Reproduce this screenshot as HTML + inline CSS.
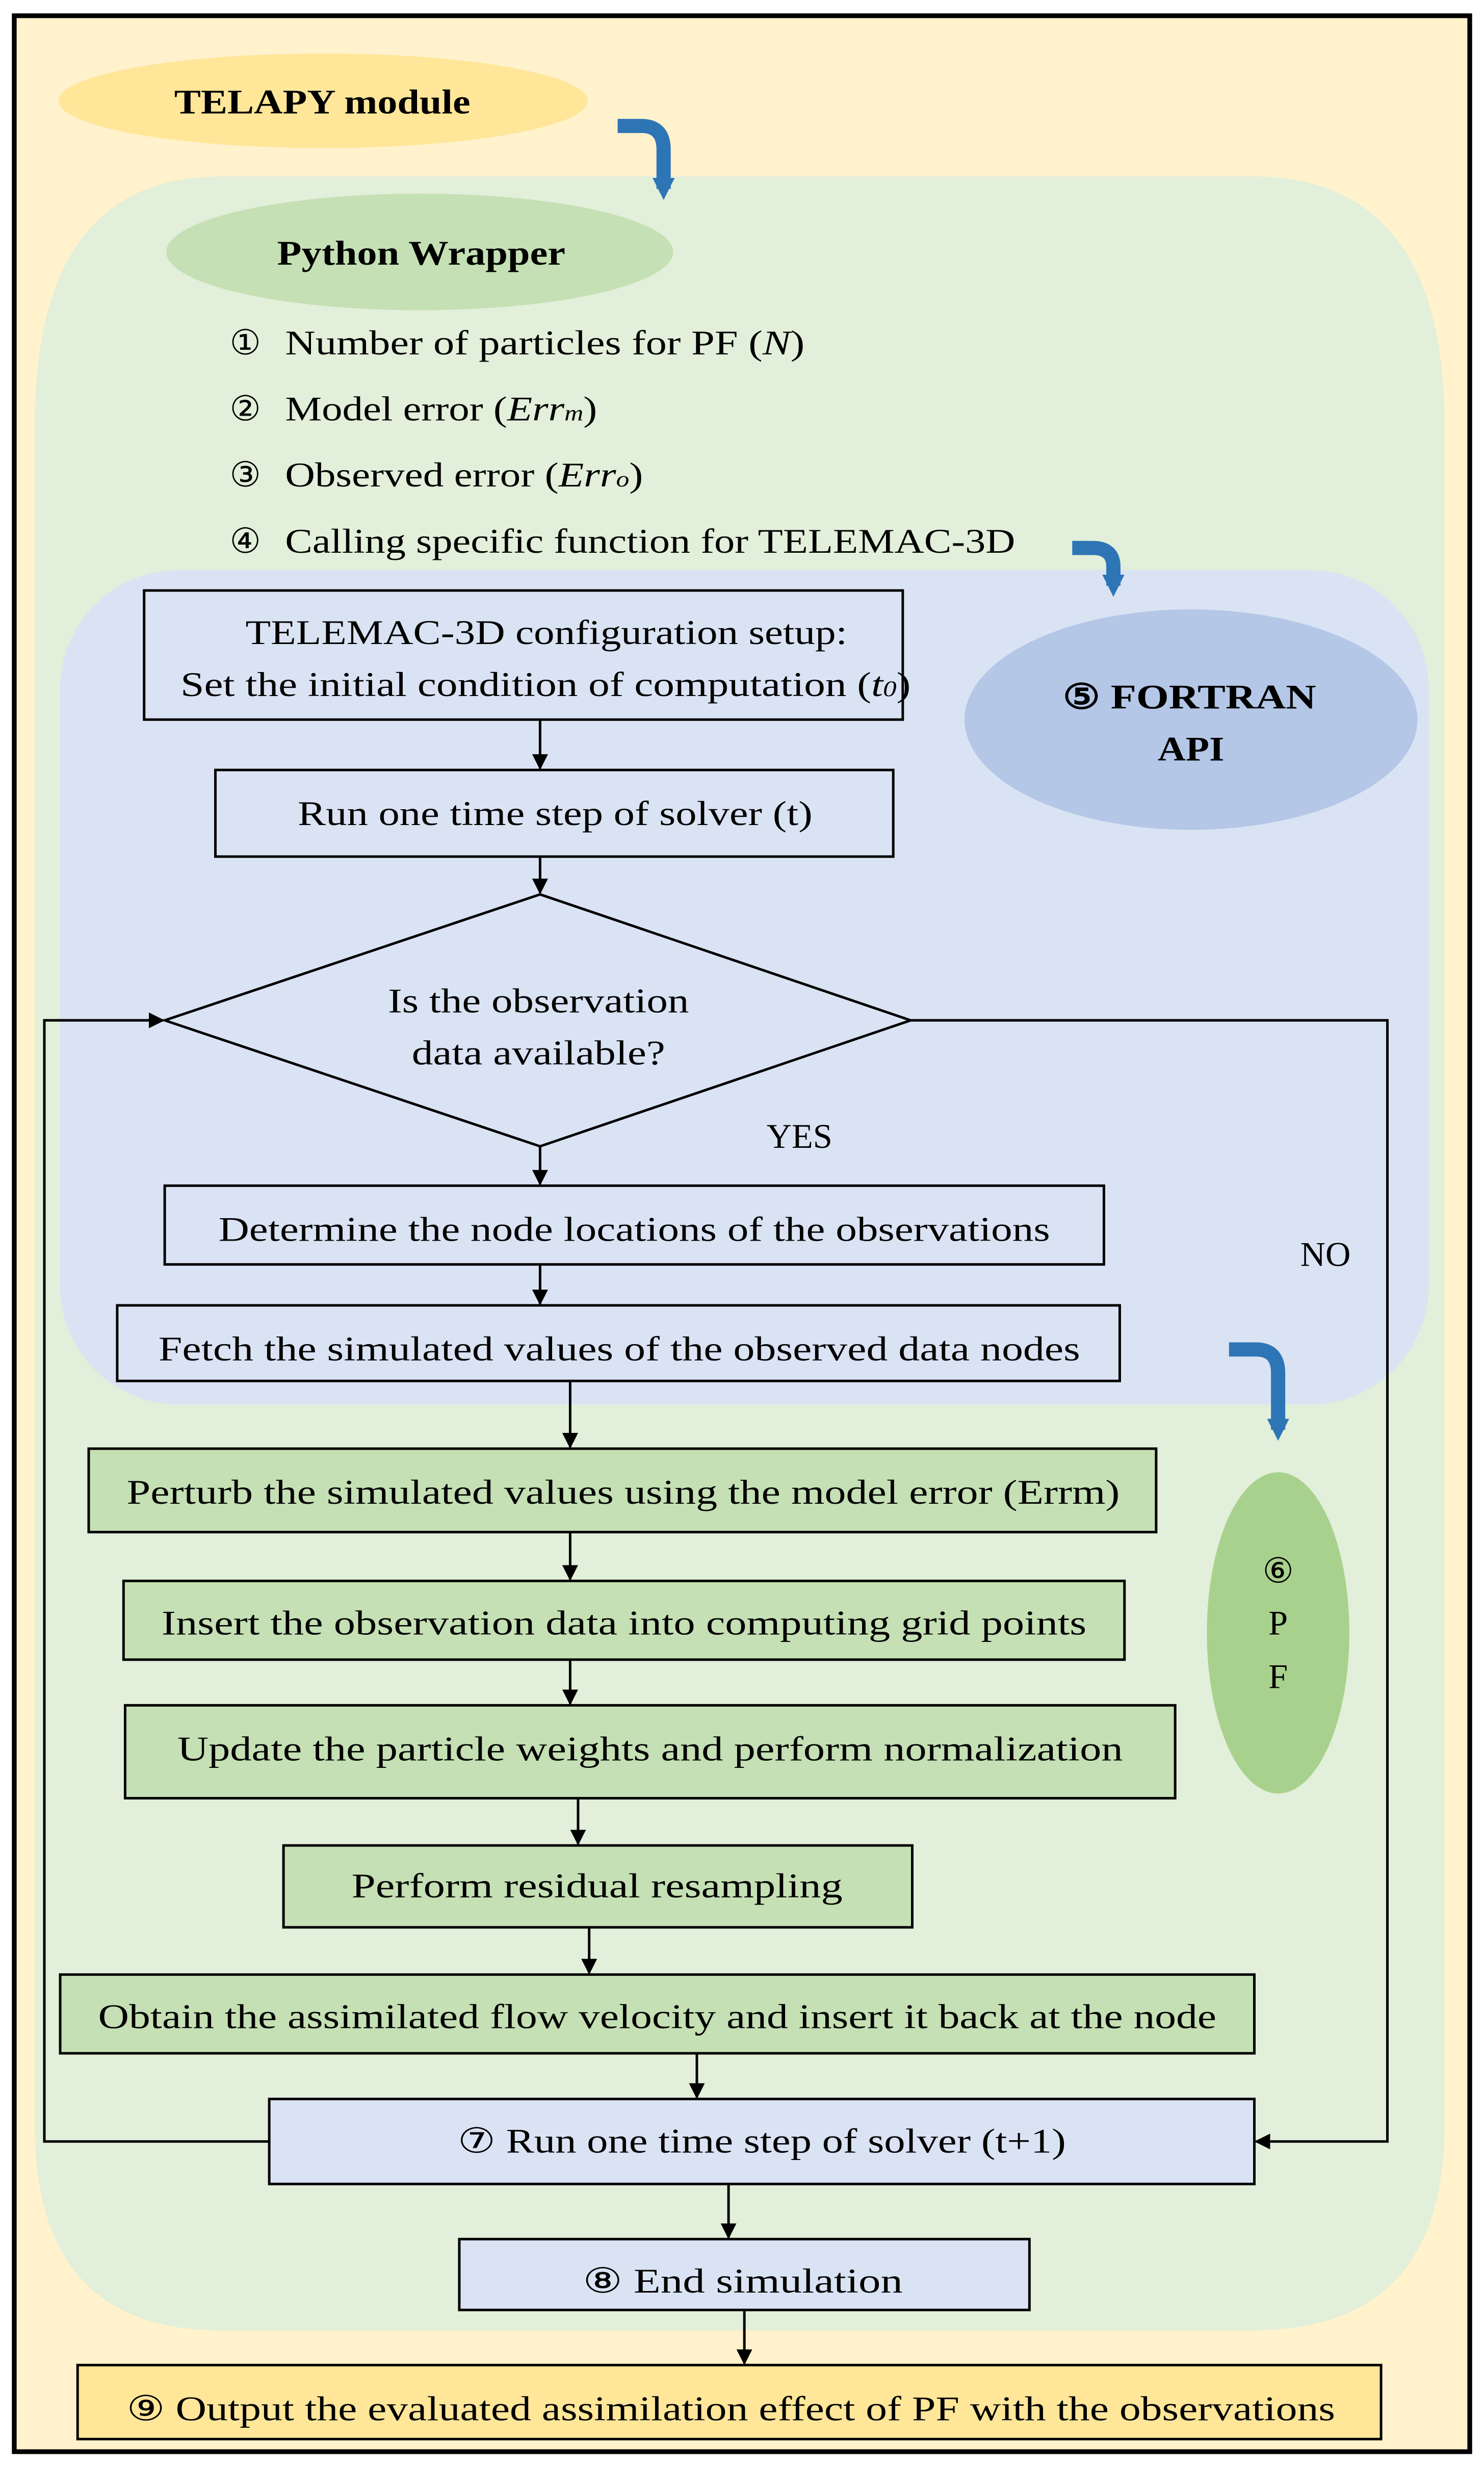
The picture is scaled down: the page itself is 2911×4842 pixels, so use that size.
<!DOCTYPE html>
<html><head><meta charset="utf-8"><style>
html,body{margin:0;padding:0;background:#fff}
svg{display:block}
text{font-family:"Liberation Serif",serif;fill:#000}
</style></head><body>
<svg width="2911" height="4842" viewBox="0 0 937 1568" preserveAspectRatio="none" xmlns="http://www.w3.org/2000/svg">
<defs>
<marker id="ah" markerWidth="10" markerHeight="10" refX="9" refY="5" orient="auto" markerUnits="userSpaceOnUse"><path d="M0,0 L10,5 L0,10 z" fill="#000"/></marker>
<marker id="bh" markerWidth="14" markerHeight="14" refX="7" refY="7" orient="auto" markerUnits="userSpaceOnUse"><path d="M0,0 L14,7 L0,14 z" fill="#2e75b6"/></marker>
</defs>
<rect x="9" y="10" width="919" height="1547" fill="#fff2cc" stroke="#000" stroke-width="3"/>
<ellipse cx="204" cy="64" rx="167" ry="30" fill="#ffe699"/>
<text x="110" y="72" font-size="22" font-weight="bold" textLength="187" lengthAdjust="spacingAndGlyphs">TELAPY module</text>
<path d="M22,1350 L22,270 Q22,112 140,112 L790,112 Q912,112 912,270 L912,1350 Q912,1480 790,1480 L140,1480 Q22,1480 22,1350 Z" fill="#e2efda"/>
<path d="M390,80 L405,80 Q419,80 419,95 L419,120" fill="none" stroke="#2e75b6" stroke-width="9" marker-end="url(#bh)"/>
<ellipse cx="265" cy="160" rx="160" ry="37" fill="#c5e0b4"/>
<text x="175" y="168" font-size="22" font-weight="bold" textLength="182" lengthAdjust="spacingAndGlyphs">Python Wrapper</text>
<g font-size="22">
<text x="145" y="225">①</text><text x="180" y="225" textLength="328" lengthAdjust="spacingAndGlyphs">Number of particles for PF (<tspan font-style="italic">N</tspan>)</text>
<text x="145" y="267">②</text><text x="180" y="267" textLength="197" lengthAdjust="spacingAndGlyphs">Model error (<tspan font-style="italic">Err<tspan font-size="14">m</tspan></tspan>)</text>
<text x="145" y="309">③</text><text x="180" y="309" textLength="226" lengthAdjust="spacingAndGlyphs">Observed error (<tspan font-style="italic">Err<tspan font-size="14">o</tspan></tspan>)</text>
<text x="145" y="351">④</text><text x="180" y="351" textLength="461" lengthAdjust="spacingAndGlyphs">Calling specific function for TELEMAC-3D</text>
</g>
<rect x="38" y="362" width="864" height="530" rx="75" fill="#dae3f3"/>
<path d="M677,348 L690,348 Q703,348 703,360 L703,372" fill="none" stroke="#2e75b6" stroke-width="9" marker-end="url(#bh)"/>
<ellipse cx="752" cy="457" rx="143" ry="70" fill="#b4c7e7"/>
<text x="671" y="450" font-size="22" font-weight="bold" textLength="160" lengthAdjust="spacingAndGlyphs">⑤ FORTRAN</text>
<text x="731" y="483" font-size="22" font-weight="bold" textLength="42" lengthAdjust="spacingAndGlyphs">API</text>
<path d="M776,857 L793,857 Q807,857 807,872 L807,908" fill="none" stroke="#2e75b6" stroke-width="9" marker-end="url(#bh)"/>
<ellipse cx="807" cy="1037" rx="45" ry="102" fill="#a9d18e"/>
<g font-size="22" text-anchor="middle">
<text x="807" y="1005">⑥</text><text x="807" y="1038">P</text><text x="807" y="1072">F</text>
</g>
<g stroke="#000" stroke-width="1.6">
<rect x="91" y="375" width="479" height="82" fill="#dae3f3"/>
<rect x="136" y="489" width="428" height="55" fill="#dae3f3"/>
<polygon points="341,568 575,648 341,728 104,648" fill="#dae3f3"/>
<rect x="104" y="753" width="593" height="50" fill="#dae3f3"/>
<rect x="74" y="829" width="633" height="48" fill="#dae3f3"/>
<rect x="56" y="920" width="674" height="53" fill="#c5e0b4"/>
<rect x="78" y="1004" width="632" height="50" fill="#c5e0b4"/>
<rect x="79" y="1083" width="663" height="59" fill="#c5e0b4"/>
<rect x="179" y="1172" width="397" height="52" fill="#c5e0b4"/>
<rect x="38" y="1254" width="754" height="50" fill="#c5e0b4"/>
<rect x="170" y="1333" width="622" height="54" fill="#dae3f3"/>
<rect x="290" y="1422" width="360" height="45" fill="#dae3f3"/>
<rect x="49" y="1502" width="823" height="47" fill="#ffe699"/>
</g>
<g stroke="#000" stroke-width="1.6" fill="none" marker-end="url(#ah)">
<line x1="341" y1="457" x2="341" y2="488"/>
<line x1="341" y1="544" x2="341" y2="567"/>
<line x1="341" y1="728" x2="341" y2="752"/>
<line x1="341" y1="803" x2="341" y2="828"/>
<line x1="360" y1="877" x2="360" y2="919"/>
<line x1="360" y1="973" x2="360" y2="1003"/>
<line x1="360" y1="1054" x2="360" y2="1082"/>
<line x1="365" y1="1142" x2="365" y2="1171"/>
<line x1="372" y1="1224" x2="372" y2="1253"/>
<line x1="440" y1="1304" x2="440" y2="1332"/>
<line x1="460" y1="1387" x2="460" y2="1421"/>
<line x1="470" y1="1467" x2="470" y2="1501"/>
<polyline points="575,648 876,648 876,1360 793,1360"/>
<polyline points="170,1360 28,1360 28,648 103,648"/>
</g>
<g font-size="22" lengthAdjust="spacingAndGlyphs">
<text x="155" y="409" textLength="380" lengthAdjust="spacingAndGlyphs">TELEMAC-3D configuration setup:</text>
<text x="114" y="442" textLength="461" lengthAdjust="spacingAndGlyphs">Set the initial condition of computation (<tspan font-style="italic">t<tspan font-size="14">0</tspan></tspan>)</text>
<text x="188" y="524" textLength="325" lengthAdjust="spacingAndGlyphs">Run one time step of solver (t)</text>
<text x="245" y="643" textLength="190" lengthAdjust="spacingAndGlyphs">Is the observation</text>
<text x="260" y="676" textLength="160" lengthAdjust="spacingAndGlyphs">data available?</text>
<text x="484" y="729">YES</text>
<text x="821" y="804">NO</text>
<text x="138" y="788" textLength="525" lengthAdjust="spacingAndGlyphs">Determine the node locations of the observations</text>
<text x="100" y="864" textLength="582" lengthAdjust="spacingAndGlyphs">Fetch the simulated values of the observed data nodes</text>
<text x="80" y="955" textLength="627" lengthAdjust="spacingAndGlyphs">Perturb the simulated values using the model error (Errm)</text>
<text x="102" y="1038" textLength="584" lengthAdjust="spacingAndGlyphs">Insert the observation data into computing grid points</text>
<text x="112" y="1118" textLength="597" lengthAdjust="spacingAndGlyphs">Update the particle weights and perform normalization</text>
<text x="222" y="1205" textLength="310" lengthAdjust="spacingAndGlyphs">Perform residual resampling</text>
<text x="62" y="1288" textLength="706" lengthAdjust="spacingAndGlyphs">Obtain the assimilated flow velocity and insert it back at the node</text>
<text x="289" y="1367" textLength="384" lengthAdjust="spacingAndGlyphs">⑦ Run one time step of solver (t+1)</text>
<text x="368" y="1456" textLength="202" lengthAdjust="spacingAndGlyphs">⑧ End simulation</text>
<text x="80" y="1537" textLength="763" lengthAdjust="spacingAndGlyphs">⑨ Output the evaluated assimilation effect of PF with the observations</text>
</g>
</svg>
</body></html>
